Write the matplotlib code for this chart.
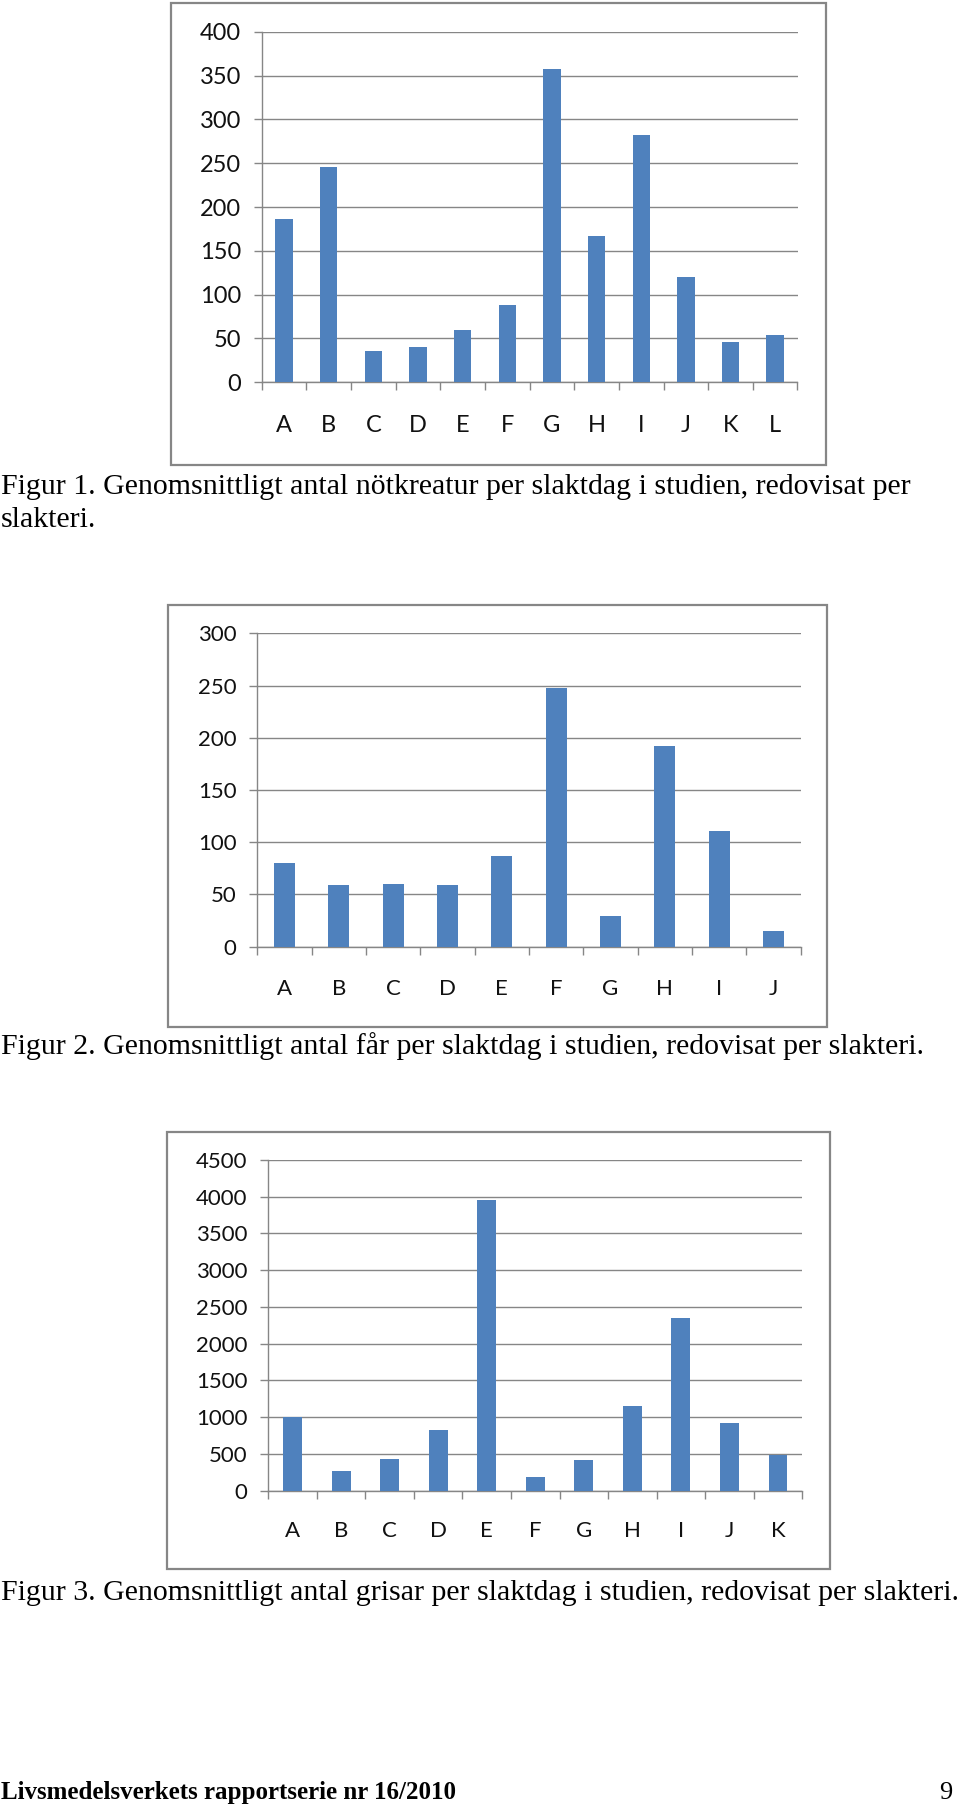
import matplotlib
matplotlib.use("Agg")
import matplotlib.pyplot as plt
from matplotlib.patches import Rectangle
from matplotlib.ticker import FixedLocator, MultipleLocator

# data
cattle_cats = ["A", "B", "C", "D", "E", "F", "G", "H", "I", "J", "K", "L"]
cattle_vals = [186, 246, 36, 40, 60, 88, 357, 167, 282, 120, 46, 54]

sheep_cats = ["A", "B", "C", "D", "E", "F", "G", "H", "I", "J"]
sheep_vals = [80, 59, 60, 59, 87, 248, 29, 192, 111, 15]

pig_cats = ["A", "B", "C", "D", "E", "F", "G", "H", "I", "J", "K"]
pig_vals = [1002, 268, 435, 820, 3960, 190, 417, 1157, 2354, 916, 485]

captions = [
    ["Figur 1. Genomsnittligt antal nötkreatur per slaktdag i studien, redovisat per",
     "slakteri."],
    ["Figur 2. Genomsnittligt antal får per slaktdag i studien, redovisat per slakteri."],
    ["Figur 3. Genomsnittligt antal grisar per slaktdag i studien, redovisat per slakteri."],
]
footer = "Livsmedelsverkets rapportserie nr 16/2010"
page_no = "9"

W, H = 960, 1805
BLUE = "#4f81bd"
GRAY = "#868686"

fig = plt.figure(figsize=(W / 100, H / 100), dpi=100)
fig.patch.set_facecolor("white")


def px_axes(x0, y0, x1, y1):
    return fig.add_axes([x0 / W, 1 - y1 / H, (x1 - x0) / W, (y1 - y0) / H])


def frame(x0, y0, x1, y1):
    fig.patches.append(Rectangle((x0 / W, 1 - y1 / H), (x1 - x0) / W, (y1 - y0) / H,
                                 transform=fig.transFigure, fill=False,
                                 edgecolor=GRAY, linewidth=1.6))


def bar_chart(box, cats, vals, ymax, ystep, fsize, xpad):
    ax = px_axes(*box)
    x = list(range(len(cats)))
    ax.bar(x, vals, width=0.39, color=BLUE, zorder=3)
    ax.set_xlim(-0.5, len(cats) - 0.5)
    ax.set_ylim(0, ymax)
    ax.yaxis.set_major_locator(MultipleLocator(ystep))
    ax.grid(axis="y", color=GRAY, linewidth=1.0, zorder=0)
    ax.set_xticks(x)
    ax.set_xticklabels(cats)
    ax.xaxis.set_minor_locator(FixedLocator([i - 0.5 for i in range(len(cats) + 1)]))
    ax.tick_params(axis="x", which="major", length=0, pad=xpad, labelsize=fsize)
    ax.tick_params(axis="x", which="minor", length=5.5, width=1.0, color=GRAY)
    ax.tick_params(axis="y", length=5.8, width=1.0, color=GRAY, pad=9, labelsize=fsize)
    for s in ("top", "right"):
        ax.spines[s].set_visible(False)
    for s in ("left", "bottom"):
        ax.spines[s].set_color(GRAY)
        ax.spines[s].set_linewidth(1.0)
    for lab in ax.get_xticklabels() + ax.get_yticklabels():
        lab.set_fontfamily("Lato")
        lab.set_color("#111111")
    return ax


frame(170.7, 2.7, 825.7, 465)
bar_chart((261.7, 31.7, 797.5, 382.3), cattle_cats, cattle_vals, 400, 50, 17, 23.5)

frame(168.3, 605, 827.3, 1026.7)
bar_chart((257.3, 633.3, 800.7, 946.7), sheep_cats, sheep_vals, 300, 50, 16, 23)

frame(167.3, 1132.3, 830, 1569.3)
bar_chart((268.3, 1160, 802.3, 1490.7), pig_cats, pig_vals, 4500, 500, 16, 21.5)

serif = "Liberation Serif"
cap_y = [494.3, 1054.3, 1600]
for lines, y in zip(captions, cap_y):
    for i, line in enumerate(lines):
        fig.text(1 / W, 1 - (y + 32.4 * i) / H, line, family=serif, fontsize=21.5,
                 va="baseline", ha="left")

fig.text(1 / W, 1 - 1799 / H, footer, family=serif, fontsize=18, weight="bold",
         va="baseline", ha="left")
fig.text(952 / W, 1 - 1799 / H, page_no, family=serif, fontsize=19,
         va="baseline", ha="right")

fig.savefig("out.png", dpi=100, facecolor="white")
